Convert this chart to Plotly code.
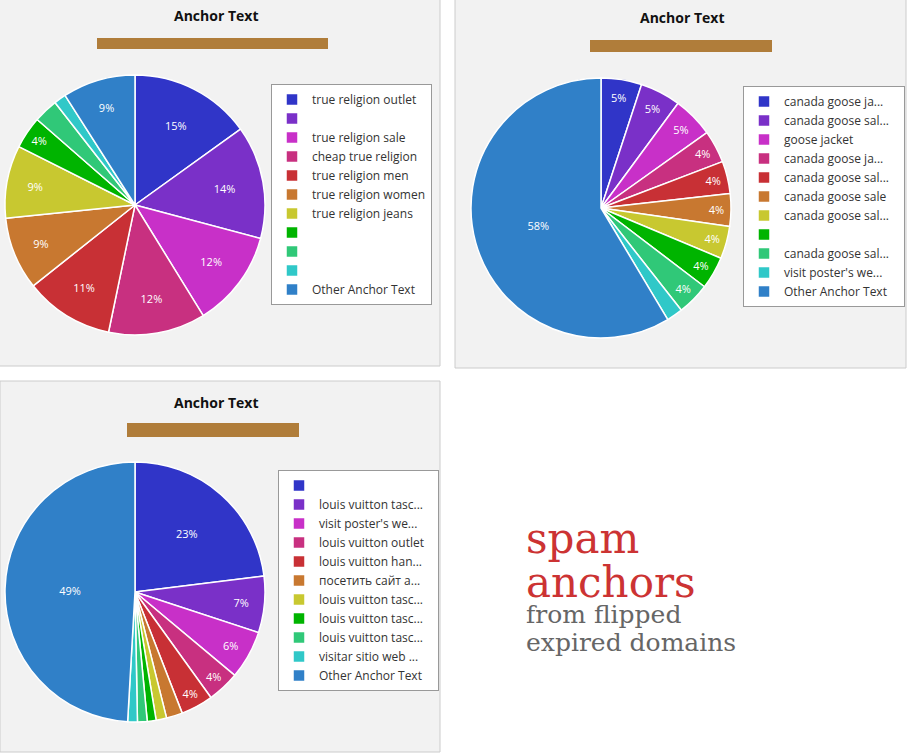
import plotly.graph_objects as go

W, H = 908, 753

colors = ['#3035c8', '#7a30c8', '#c830c8', '#c83080', '#c83035', '#c87830',
          '#c8c830', '#00b400', '#30c878', '#30c8c8', '#3080c8']

# chart 1
labels1 = ['true religion outlet', ' ', 'true religion sale', 'cheap true religion',
           'true religion men', 'true religion women', 'true religion jeans',
           '  ', '   ', '    ', 'Other Anchor Text']
values1 = [15, 14, 12, 12, 11, 9, 9, 4, 3, 1.5, 9]
pct1 = ['15%', '14%', '12%', '12%', '11%', '9%', '9%', '4%', '', '', '9%']

# chart 2
labels2 = ['canada goose ja...', 'canada goose sal...', 'goose jacket', 'canada goose ja... ',
           'canada goose sal... ', 'canada goose sale', 'canada goose sal...  ', ' ',
           'canada goose sal...   ', "visit poster's we...", 'Other Anchor Text']
values2 = [5, 5, 5, 4, 4, 4, 4, 4, 4, 2, 58]
pct2 = ['5%', '5%', '5%', '4%', '4%', '4%', '4%', '4%', '4%', '', '58%']

# chart 3
labels3 = [' ', 'louis vuitton tasc...', "visit poster's we...", 'louis vuitton outlet',
           'louis vuitton han...', 'посетить сайт а...', 'louis vuitton tasc... ',
           'louis vuitton tasc...  ', 'louis vuitton tasc...   ', 'visitar sitio web ...',
           'Other Anchor Text']
values3 = [23, 7, 6, 4, 4, 2, 1.3, 1.1, 1.2, 1.2, 49]
pct3 = ['23%', '7%', '6%', '4%', '4%', '', '', '', '', '', '49%']


def px_x(x):
    return x / W


def px_y(y):
    return 1 - y / H


fig = go.Figure()

charts = [
    (labels1, values1, pct1, 135, 205, 'legend', 271, 84),
    (labels2, values2, pct2, 601, 208, 'legend2', 743, 86),
    (labels3, values3, pct3, 135, 592, 'legend3', 278, 470),
]
r = 130
legends = {}
for i, (lab, val, pct, cx, cy, lg, lx, ly) in enumerate(charts):
    # pie legends share labels across traces, so make every label unique per chart
    lab = [l + '\u200b' * (i + 1) for l in lab]
    fig.add_trace(go.Pie(
        labels=lab, values=val, text=pct, textinfo='text', textposition='inside',
        insidetextorientation='horizontal', textfont=dict(color='white', size=11),
        sort=False, direction='clockwise', rotation=0,
        marker=dict(colors=colors, line=dict(color='white', width=1.5)),
        domain=dict(x=[px_x(cx - r), px_x(cx + r)], y=[px_y(cy + r), px_y(cy - r)]),
        legend=lg, hoverinfo='label+percent'))
    legends[lg] = dict(x=px_x(lx), y=px_y(ly), xanchor='left', yanchor='top',
                       bgcolor='white', bordercolor='#999', borderwidth=1,
                       font=dict(size=12, color='#333', family='Open Sans'),
                       itemclick=False)

# panels
panels = [(-5, -5, 440, 366), (455, -5, 906, 368), (0, 381, 440, 752)]
for x0, y0, x1, y1 in panels:
    fig.add_shape(type='rect', xref='paper', yref='paper', layer='below',
                  x0=px_x(x0), x1=px_x(x1), y0=px_y(y1), y1=px_y(y0),
                  fillcolor='#f2f2f2', line=dict(color='#cccccc', width=1))

titles = [(216, 16, 97, 328, 38, 49), (682, 18, 590, 772, 40, 52), (216, 402, 127, 299, 423, 437)]
for tx, ty, bx0, bx1, by0, by1 in titles:
    fig.add_annotation(x=px_x(tx), y=px_y(ty), xref='paper', yref='paper', text='<b>Anchor Text</b>',
                       xanchor='center', yanchor='middle', showarrow=False,
                       font=dict(size=14, color='#111', family='Open Sans'))
    fig.add_shape(type='rect', xref='paper', yref='paper', x0=px_x(bx0), x1=px_x(bx1),
                  y0=px_y(by1), y1=px_y(by0), fillcolor='#b07d3a', line=dict(width=0))

for txt, y, col, sz in [('spam', 538, '#cc3333', 42), ('anchors', 582, '#cc3333', 42),
                        ('from flipped', 614, '#666', 25), ('expired domains', 642, '#666', 25)]:
    fig.add_annotation(x=px_x(524), y=px_y(y), xref='paper', yref='paper', text=txt,
                       xanchor='left', yanchor='middle', showarrow=False,
                       font=dict(size=sz, color=col, family='DejaVu Serif'))

fig.update_layout(width=W, height=H, margin=dict(l=0, r=0, t=0, b=0),
                  paper_bgcolor='white', plot_bgcolor='white', **legends)
fig.write_html('out.html', config={'displayModeBar': False},
               post_script="document.body.style.margin='0';")
